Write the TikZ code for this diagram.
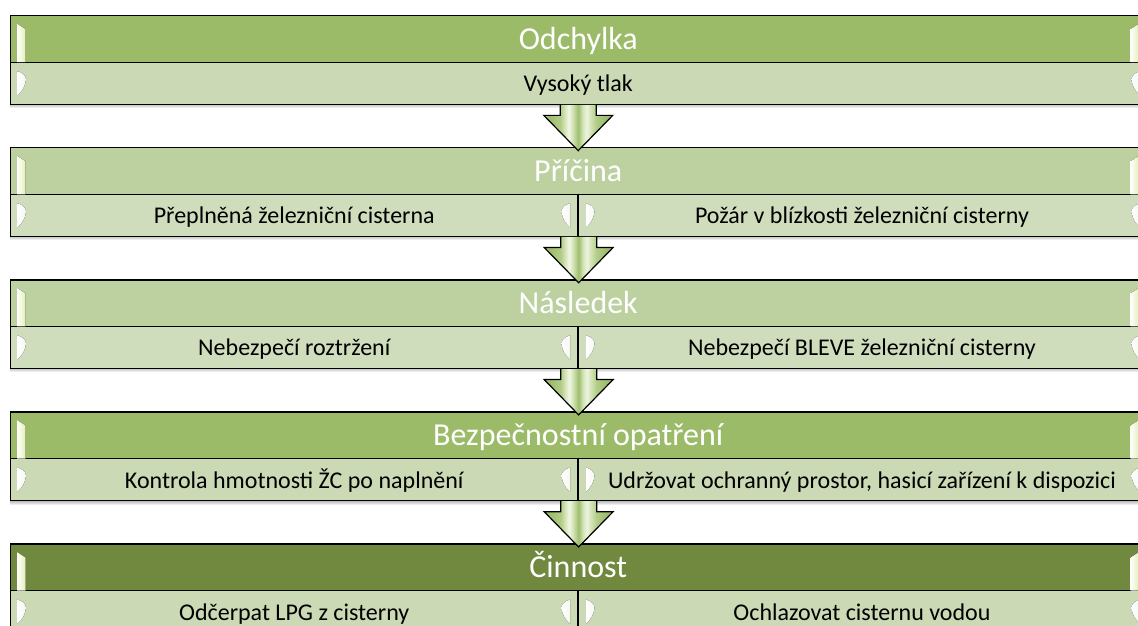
\documentclass[tikz,border=0pt]{standalone}
\usepackage{fontspec}
\setmainfont{Carlito}
\usetikzlibrary{calc}
\definecolor{hdA}{HTML}{9BBB69}
\definecolor{hdB}{HTML}{BDD09F}
\definecolor{hdC}{HTML}{71893F}
\definecolor{subA}{HTML}{CBD9B5}
\definecolor{subB}{HTML}{D0DDBD}
\definecolor{agD}{HTML}{9EBE6E}
\definecolor{agM}{HTML}{B2CC88}
\definecolor{agL}{HTML}{D2E3B3}
\definecolor{hmY}{HTML}{E2F0B4}
\pgfdeclarehorizontalshading{arrsh}{100bp}{color(0bp)=(agD); color(30bp)=(agD); color(37bp)=(agM); color(40bp)=(agL); color(43bp)=(white!70!agL); color(46bp)=(agL); color(50bp)=(agD); color(53bp)=(agL); color(56bp)=(white!60!agL); color(59bp)=(agL); color(63bp)=(agM); color(70bp)=(agD); color(100bp)=(agD)}
\tikzset{
  rowbase/.style={rectangle, draw=black, line width=1.3pt, inner sep=0pt},
  hdr/.style={rowbase, minimum width=1135.5pt, minimum height=46.5pt, text=white,
    font=\fontsize{32}{38}\selectfont, text height=27pt, text depth=6.5pt},
  subtext/.style={rowbase, minimum height=42pt, text=black,
    font=\fontsize{24}{29}\selectfont, text height=22pt, text depth=5pt},
  subfull/.style={subtext, minimum width=1135.5pt},
  subleft/.style={subtext, minimum width=567.5pt},
  subright/.style={subtext, minimum width=568pt},
  arrowbody/.style={draw=black, line width=1.2pt, line join=miter, shading=arrsh},
  hmk/.style={left color=white, right color=hmY},
  smk/.style={left color=white, right color=white!80!subA},
  shadowrow/.style={fill=black, opacity=0.07},
}
% shadow under a block whose top is #1
\newcommand\blockshadow[1]{%
  \foreach \d in {1,2,3,4}{\fill[shadowrow] (9.5,#1+\d) rectangle (1146,#1+88.5+\d);}}
% header gleam (left and right) for header with top #1
\newcommand\headgleam[1]{%
  \fill[hmk] (17,#1+8) -- (25.5,#1+13.5) -- (25.5,#1+46.5) -- (17,#1+46.5) -- cycle;
  \begin{scope}[shift={(1156,0)},xscale=-1]
    \fill[hmk] (17,#1+8) -- (25.5,#1+13.5) -- (25.5,#1+46.5) -- (17,#1+46.5) -- cycle;
  \end{scope}}
% sub-row gleam, flat side at x=#1, row top #2, bulge direction #3 (1 right, -1 left)
\newcommand\subgleam[3]{%
  \begin{scope}[shift={(#1,#2)},xscale=#3]
    \fill[smk] (0,9) .. controls (5,10.5) and (8,13) .. (8.5,17) .. controls (8,23) and (5,29) .. (0,33) -- cycle;
  \end{scope}}
\newcommand\blockarrow[2]{%
  \filldraw[arrowbody] let \p1=(#1), \p2=(#2) in
    (\x1-18pt,\y1) -- (\x1-18pt,\y1-10.5pt) -- (\x1-34.5pt,\y1-10.5pt) -- (\x1,\y2-3.5pt)
    -- (\x1+34.5pt,\y1-10.5pt) -- (\x1+18pt,\y1-10.5pt) -- (\x1+18pt,\y1);}
\begin{document}
\begin{tikzpicture}[x=1pt,y=-1pt]
\useasboundingbox (0,0) rectangle (1138,626);
\clip (0,0) rectangle (1138,626);
\fill[white] (0,0) rectangle (1138,626);
% shadows
\foreach \t in {15.7,147.8,279.9,412.0,544.1}{\blockshadow{\t}}
% block 1
\node[hdr, fill=hdA] (h1) at (578.25,38.95) {Odchylka};
\node[subfull, fill=subA] (s1) at (578.25,83.2) {Vysoký tlak};
% block 2
\node[hdr, fill=hdB] (h2) at (578.25,171.05) {Příčina};
\node[subleft, fill=subB] (s2a) at (294.25,215.3) {Přeplněná železniční cisterna};
\node[subright, fill=subB] (s2b) at (862,215.3) {Požár v blízkosti železniční cisterny};
% block 3
\node[hdr, fill=hdB] (h3) at (578.25,303.15) {Následek};
\node[subleft, fill=subB] (s3a) at (294.25,347.4) {Nebezpečí roztržení};
\node[subright, fill=subB] (s3b) at (862,347.4) {Nebezpečí BLEVE železniční cisterny};
% block 4
\node[hdr, fill=hdA] (h4) at (578.25,435.25) {Bezpečnostní opatření};
\node[subleft, fill=subA] (s4a) at (294.25,479.5) {Kontrola hmotnosti ŽC po naplnění};
\node[subright, fill=subA] (s4b) at (862,479.5) {Udržovat ochranný prostor, hasicí zařízení k dispozici};
% block 5
\node[hdr, fill=hdC] (h5) at (578.25,567.35) {Činnost};
\node[subleft, fill=subA] (s5a) at (294.25,611.6) {Odčerpat LPG z cisterny};
\node[subright, fill=subA] (s5b) at (862,611.6) {Ochlazovat cisternu vodou};
% gleams
\foreach \t in {15.7,147.8,279.9,412.0,544.1}{\headgleam{\t}}
\subgleam{17.5}{62.2}{1}
\subgleam{1140}{62.2}{-1}
\foreach \t in {194.3,326.4,458.5,590.6}{
  \subgleam{17.5}{\t}{1}
  \subgleam{570}{\t}{-1}
  \subgleam{586}{\t}{1}
  \subgleam{1140}{\t}{-1}
}
% connectors
\blockarrow{s1.south}{h2.north}
\blockarrow{s2a.south east}{h3.north}
\blockarrow{s3a.south east}{h4.north}
\blockarrow{s4a.south east}{h5.north}
\end{tikzpicture}
\end{document}
